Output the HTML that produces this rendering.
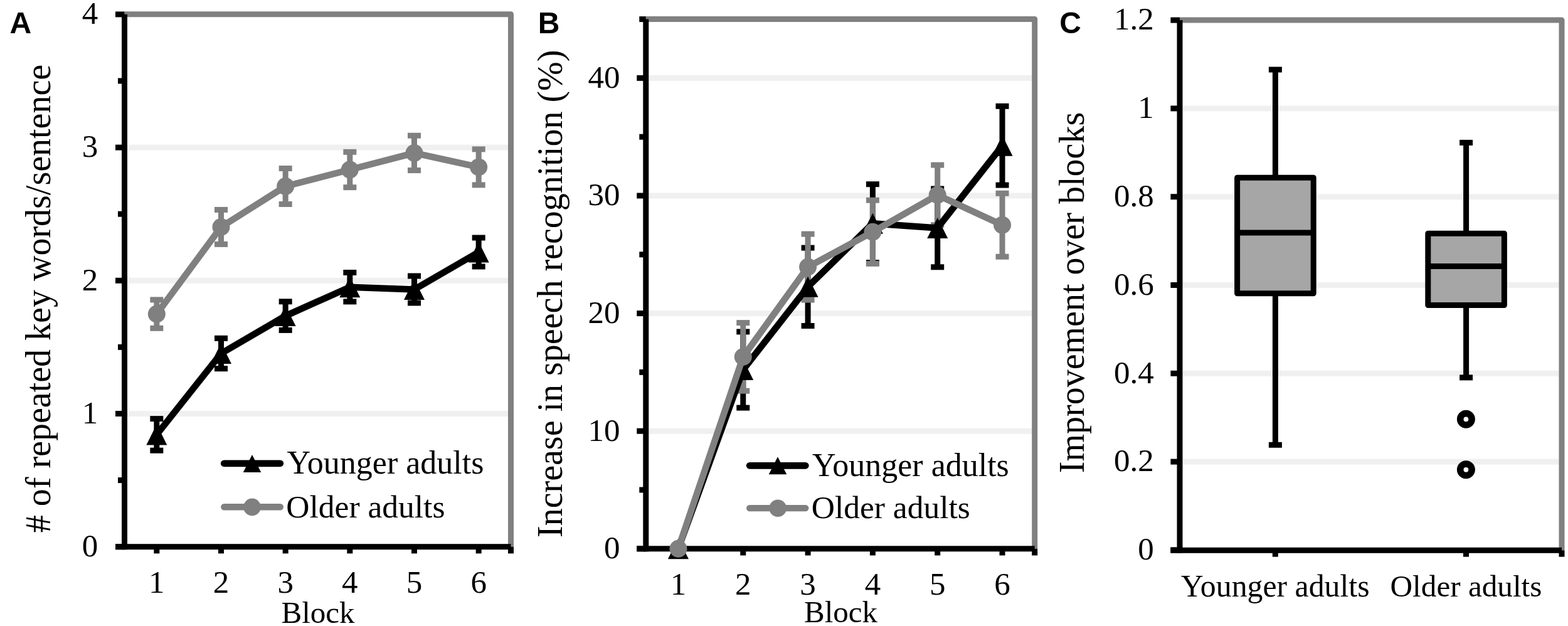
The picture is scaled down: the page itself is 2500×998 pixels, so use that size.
<!DOCTYPE html>
<html><head><meta charset="utf-8"><title>Figure</title>
<style>html,body{margin:0;padding:0;background:#fff;}svg{display:block;}</style>
</head><body>
<svg width="2500" height="998" viewBox="0 0 2500 998">
<rect x="0" y="0" width="2500" height="998" fill="#fff"/>
<rect x="203.00" y="655.00" width="607.00" height="9.00" fill="#f0f0f0"/>
<rect x="203.00" y="442.80" width="607.00" height="9.00" fill="#f0f0f0"/>
<rect x="203.00" y="230.60" width="607.00" height="9.00" fill="#f0f0f0"/>
<path d="M198.50,22.80 L814.50,22.80 L814.50,871.70" fill="none" stroke="#808080" stroke-width="9" stroke-linejoin="round"/>
<rect x="194.00" y="22.80" width="9.00" height="853.40" fill="#000"/>
<rect x="184.00" y="867.20" width="630.50" height="9.00" fill="#000"/>
<rect x="184.00" y="867.20" width="14.50" height="9.00" fill="#000"/>
<rect x="184.00" y="655.00" width="14.50" height="9.00" fill="#000"/>
<rect x="184.00" y="442.80" width="14.50" height="9.00" fill="#000"/>
<rect x="184.00" y="230.60" width="14.50" height="9.00" fill="#000"/>
<rect x="184.00" y="18.40" width="14.50" height="9.00" fill="#000"/>
<rect x="188.00" y="761.10" width="10.50" height="9.00" fill="#000"/>
<rect x="188.00" y="548.90" width="10.50" height="9.00" fill="#000"/>
<rect x="188.00" y="336.70" width="10.50" height="9.00" fill="#000"/>
<rect x="188.00" y="124.50" width="10.50" height="9.00" fill="#000"/>
<rect x="245.33" y="871.70" width="9.00" height="10.70" fill="#000"/>
<rect x="348.00" y="871.70" width="9.00" height="10.70" fill="#000"/>
<rect x="450.67" y="871.70" width="9.00" height="10.70" fill="#000"/>
<rect x="553.33" y="871.70" width="9.00" height="10.70" fill="#000"/>
<rect x="656.00" y="871.70" width="9.00" height="10.70" fill="#000"/>
<rect x="758.67" y="871.70" width="9.00" height="10.70" fill="#000"/>
<rect x="810.00" y="871.70" width="9.00" height="10.70" fill="#000"/>
<text x="156.30" y="887.00" font-size="51" font-family="'Liberation Serif', 'Times New Roman', serif" text-anchor="end">0</text>
<text x="156.30" y="674.80" font-size="51" font-family="'Liberation Serif', 'Times New Roman', serif" text-anchor="end">1</text>
<text x="156.30" y="462.60" font-size="51" font-family="'Liberation Serif', 'Times New Roman', serif" text-anchor="end">2</text>
<text x="156.30" y="250.40" font-size="51" font-family="'Liberation Serif', 'Times New Roman', serif" text-anchor="end">3</text>
<text x="156.30" y="38.20" font-size="51" font-family="'Liberation Serif', 'Times New Roman', serif" text-anchor="end">4</text>
<text x="249.83" y="944.90" font-size="51" font-family="'Liberation Serif', 'Times New Roman', serif" text-anchor="middle">1</text>
<text x="352.50" y="944.90" font-size="51" font-family="'Liberation Serif', 'Times New Roman', serif" text-anchor="middle">2</text>
<text x="455.17" y="944.90" font-size="51" font-family="'Liberation Serif', 'Times New Roman', serif" text-anchor="middle">3</text>
<text x="557.83" y="944.90" font-size="51" font-family="'Liberation Serif', 'Times New Roman', serif" text-anchor="middle">4</text>
<text x="660.50" y="944.90" font-size="51" font-family="'Liberation Serif', 'Times New Roman', serif" text-anchor="middle">5</text>
<text x="763.17" y="944.90" font-size="51" font-family="'Liberation Serif', 'Times New Roman', serif" text-anchor="middle">6</text>
<text x="507.00" y="992.50" font-size="49" font-family="'Liberation Serif', 'Times New Roman', serif" text-anchor="middle">Block</text>
<text x="0" y="0" font-size="56" font-family="'Liberation Serif', 'Times New Roman', serif" text-anchor="middle" transform="translate(80.00,476.00) rotate(-90)"># of repeated key words/sentence</text>
<text x="15.50" y="53.20" font-size="48" font-family="'Liberation Sans', Arial, sans-serif" text-anchor="start" font-weight="bold">A</text>
<rect x="245.33" y="667.60" width="9.00" height="50.60" fill="#000"/>
<rect x="239.33" y="663.10" width="21.00" height="9.00" fill="#000"/>
<rect x="239.33" y="713.70" width="21.00" height="9.00" fill="#000"/>
<rect x="348.00" y="539.30" width="9.00" height="48.40" fill="#000"/>
<rect x="342.00" y="534.80" width="21.00" height="9.00" fill="#000"/>
<rect x="342.00" y="583.20" width="21.00" height="9.00" fill="#000"/>
<rect x="450.67" y="480.80" width="9.00" height="45.60" fill="#000"/>
<rect x="444.67" y="476.30" width="21.00" height="9.00" fill="#000"/>
<rect x="444.67" y="521.90" width="21.00" height="9.00" fill="#000"/>
<rect x="553.33" y="434.50" width="9.00" height="46.40" fill="#000"/>
<rect x="547.33" y="430.00" width="21.00" height="9.00" fill="#000"/>
<rect x="547.33" y="476.40" width="21.00" height="9.00" fill="#000"/>
<rect x="656.00" y="440.00" width="9.00" height="43.00" fill="#000"/>
<rect x="650.00" y="435.50" width="21.00" height="9.00" fill="#000"/>
<rect x="650.00" y="478.50" width="21.00" height="9.00" fill="#000"/>
<rect x="758.67" y="379.00" width="9.00" height="46.00" fill="#000"/>
<rect x="752.67" y="374.50" width="21.00" height="9.00" fill="#000"/>
<rect x="752.67" y="420.50" width="21.00" height="9.00" fill="#000"/>
<rect x="245.33" y="477.90" width="9.00" height="45.40" fill="#808080"/>
<rect x="239.33" y="473.40" width="21.00" height="9.00" fill="#808080"/>
<rect x="239.33" y="518.80" width="21.00" height="9.00" fill="#808080"/>
<rect x="348.00" y="334.40" width="9.00" height="55.00" fill="#808080"/>
<rect x="342.00" y="329.90" width="21.00" height="9.00" fill="#808080"/>
<rect x="342.00" y="384.90" width="21.00" height="9.00" fill="#808080"/>
<rect x="450.67" y="268.50" width="9.00" height="57.00" fill="#808080"/>
<rect x="444.67" y="264.00" width="21.00" height="9.00" fill="#808080"/>
<rect x="444.67" y="321.00" width="21.00" height="9.00" fill="#808080"/>
<rect x="553.33" y="242.30" width="9.00" height="56.40" fill="#808080"/>
<rect x="547.33" y="237.80" width="21.00" height="9.00" fill="#808080"/>
<rect x="547.33" y="294.20" width="21.00" height="9.00" fill="#808080"/>
<rect x="656.00" y="216.20" width="9.00" height="55.40" fill="#808080"/>
<rect x="650.00" y="211.70" width="21.00" height="9.00" fill="#808080"/>
<rect x="650.00" y="267.10" width="21.00" height="9.00" fill="#808080"/>
<rect x="758.67" y="237.90" width="9.00" height="57.00" fill="#808080"/>
<rect x="752.67" y="233.40" width="21.00" height="9.00" fill="#808080"/>
<rect x="752.67" y="290.40" width="21.00" height="9.00" fill="#808080"/>
<polyline points="249.83,692.90 352.50,563.50 455.17,503.60 557.83,457.70 660.50,461.50 763.17,402.00" fill="none" stroke="#000" stroke-width="10.5" stroke-linejoin="round" stroke-linecap="round"/>
<polygon points="249.83,676.40 266.33,709.40 233.33,709.40" fill="#000"/>
<polygon points="352.50,547.00 369.00,580.00 336.00,580.00" fill="#000"/>
<polygon points="455.17,487.10 471.67,520.10 438.67,520.10" fill="#000"/>
<polygon points="557.83,441.20 574.33,474.20 541.33,474.20" fill="#000"/>
<polygon points="660.50,445.00 677.00,478.00 644.00,478.00" fill="#000"/>
<polygon points="763.17,385.50 779.67,418.50 746.67,418.50" fill="#000"/>
<polyline points="249.83,500.60 352.50,361.90 455.17,297.00 557.83,270.50 660.50,243.90 763.17,266.40" fill="none" stroke="#808080" stroke-width="10.5" stroke-linejoin="round" stroke-linecap="round"/>
<circle cx="249.83" cy="500.60" r="14" fill="#808080"/>
<circle cx="352.50" cy="361.90" r="14" fill="#808080"/>
<circle cx="455.17" cy="297.00" r="14" fill="#808080"/>
<circle cx="557.83" cy="270.50" r="14" fill="#808080"/>
<circle cx="660.50" cy="243.90" r="14" fill="#808080"/>
<circle cx="763.17" cy="266.40" r="14" fill="#808080"/>
<line x1="357.3" y1="738.8" x2="446.8" y2="738.8" stroke="#000" stroke-width="10.8" stroke-linecap="round"/>
<polygon points="402.00,725.00 416.25,753.00 387.75,753.00" fill="#000"/>
<line x1="357.3" y1="808.2" x2="446.8" y2="808.2" stroke="#808080" stroke-width="10.4" stroke-linecap="round"/>
<circle cx="402.00" cy="808.40" r="13.8" fill="#808080"/>
<text x="457.50" y="754.90" font-size="52" font-family="'Liberation Serif', 'Times New Roman', serif" text-anchor="start">Younger adults</text>
<text x="456.30" y="824.80" font-size="51.5" font-family="'Liberation Serif', 'Times New Roman', serif" text-anchor="start">Older adults</text>
<rect x="1034.30" y="682.70" width="610.90" height="9.00" fill="#f0f0f0"/>
<rect x="1034.30" y="495.10" width="610.90" height="9.00" fill="#f0f0f0"/>
<rect x="1034.30" y="307.50" width="610.90" height="9.00" fill="#f0f0f0"/>
<rect x="1034.30" y="119.90" width="610.90" height="9.00" fill="#f0f0f0"/>
<path d="M1029.80,30.50 L1649.70,30.50 L1649.70,874.80" fill="none" stroke="#808080" stroke-width="9" stroke-linejoin="round"/>
<rect x="1025.30" y="30.50" width="9.00" height="848.80" fill="#000"/>
<rect x="1015.30" y="870.30" width="634.40" height="9.00" fill="#000"/>
<rect x="1015.30" y="870.30" width="14.50" height="9.00" fill="#000"/>
<rect x="1015.30" y="682.70" width="14.50" height="9.00" fill="#000"/>
<rect x="1015.30" y="495.10" width="14.50" height="9.00" fill="#000"/>
<rect x="1015.30" y="307.50" width="14.50" height="9.00" fill="#000"/>
<rect x="1015.30" y="119.90" width="14.50" height="9.00" fill="#000"/>
<rect x="1019.30" y="776.50" width="10.50" height="9.00" fill="#000"/>
<rect x="1019.30" y="588.90" width="10.50" height="9.00" fill="#000"/>
<rect x="1019.30" y="401.30" width="10.50" height="9.00" fill="#000"/>
<rect x="1019.30" y="213.70" width="10.50" height="9.00" fill="#000"/>
<rect x="1019.30" y="26.10" width="10.50" height="9.00" fill="#000"/>
<rect x="1076.96" y="874.80" width="9.00" height="10.70" fill="#000"/>
<rect x="1180.28" y="874.80" width="9.00" height="10.70" fill="#000"/>
<rect x="1283.59" y="874.80" width="9.00" height="10.70" fill="#000"/>
<rect x="1386.91" y="874.80" width="9.00" height="10.70" fill="#000"/>
<rect x="1490.22" y="874.80" width="9.00" height="10.70" fill="#000"/>
<rect x="1593.54" y="874.80" width="9.00" height="10.70" fill="#000"/>
<rect x="1645.20" y="874.80" width="9.00" height="10.70" fill="#000"/>
<text x="988.50" y="890.10" font-size="51" font-family="'Liberation Serif', 'Times New Roman', serif" text-anchor="end">0</text>
<text x="988.50" y="702.50" font-size="51" font-family="'Liberation Serif', 'Times New Roman', serif" text-anchor="end">10</text>
<text x="988.50" y="514.90" font-size="51" font-family="'Liberation Serif', 'Times New Roman', serif" text-anchor="end">20</text>
<text x="988.50" y="327.30" font-size="51" font-family="'Liberation Serif', 'Times New Roman', serif" text-anchor="end">30</text>
<text x="988.50" y="139.70" font-size="51" font-family="'Liberation Serif', 'Times New Roman', serif" text-anchor="end">40</text>
<text x="1081.46" y="947.80" font-size="51" font-family="'Liberation Serif', 'Times New Roman', serif" text-anchor="middle">1</text>
<text x="1184.78" y="947.80" font-size="51" font-family="'Liberation Serif', 'Times New Roman', serif" text-anchor="middle">2</text>
<text x="1288.09" y="947.80" font-size="51" font-family="'Liberation Serif', 'Times New Roman', serif" text-anchor="middle">3</text>
<text x="1391.41" y="947.80" font-size="51" font-family="'Liberation Serif', 'Times New Roman', serif" text-anchor="middle">4</text>
<text x="1494.72" y="947.80" font-size="51" font-family="'Liberation Serif', 'Times New Roman', serif" text-anchor="middle">5</text>
<text x="1598.04" y="947.80" font-size="51" font-family="'Liberation Serif', 'Times New Roman', serif" text-anchor="middle">6</text>
<text x="1340.60" y="991.50" font-size="49" font-family="'Liberation Serif', 'Times New Roman', serif" text-anchor="middle">Block</text>
<text x="0" y="0" font-size="56" font-family="'Liberation Serif', 'Times New Roman', serif" text-anchor="middle" transform="translate(896.00,468.30) rotate(-90)">Increase in speech recognition (%)</text>
<text x="857.80" y="53.00" font-size="48" font-family="'Liberation Sans', Arial, sans-serif" text-anchor="start" font-weight="bold">B</text>
<rect x="1180.28" y="528.90" width="9.00" height="121.20" fill="#000"/>
<rect x="1174.28" y="524.40" width="21.00" height="9.00" fill="#000"/>
<rect x="1174.28" y="645.60" width="21.00" height="9.00" fill="#000"/>
<rect x="1283.59" y="395.10" width="9.00" height="124.40" fill="#000"/>
<rect x="1277.59" y="390.60" width="21.00" height="9.00" fill="#000"/>
<rect x="1277.59" y="515.00" width="21.00" height="9.00" fill="#000"/>
<rect x="1386.91" y="293.70" width="9.00" height="125.00" fill="#000"/>
<rect x="1380.91" y="289.20" width="21.00" height="9.00" fill="#000"/>
<rect x="1380.91" y="414.20" width="21.00" height="9.00" fill="#000"/>
<rect x="1490.22" y="301.00" width="9.00" height="124.80" fill="#000"/>
<rect x="1484.22" y="296.50" width="21.00" height="9.00" fill="#000"/>
<rect x="1484.22" y="421.30" width="21.00" height="9.00" fill="#000"/>
<rect x="1593.54" y="169.30" width="9.00" height="125.80" fill="#000"/>
<rect x="1587.54" y="164.80" width="21.00" height="9.00" fill="#000"/>
<rect x="1587.54" y="290.60" width="21.00" height="9.00" fill="#000"/>
<rect x="1180.28" y="514.60" width="9.00" height="108.60" fill="#808080"/>
<rect x="1174.28" y="510.10" width="21.00" height="9.00" fill="#808080"/>
<rect x="1174.28" y="618.70" width="21.00" height="9.00" fill="#808080"/>
<rect x="1283.59" y="373.10" width="9.00" height="105.00" fill="#808080"/>
<rect x="1277.59" y="368.60" width="21.00" height="9.00" fill="#808080"/>
<rect x="1277.59" y="473.60" width="21.00" height="9.00" fill="#808080"/>
<rect x="1386.91" y="319.20" width="9.00" height="101.20" fill="#808080"/>
<rect x="1380.91" y="314.70" width="21.00" height="9.00" fill="#808080"/>
<rect x="1380.91" y="415.90" width="21.00" height="9.00" fill="#808080"/>
<rect x="1490.22" y="263.10" width="9.00" height="95.60" fill="#808080"/>
<rect x="1484.22" y="258.60" width="21.00" height="9.00" fill="#808080"/>
<rect x="1484.22" y="354.20" width="21.00" height="9.00" fill="#808080"/>
<rect x="1593.54" y="308.25" width="9.00" height="101.00" fill="#808080"/>
<rect x="1587.54" y="303.75" width="21.00" height="9.00" fill="#808080"/>
<rect x="1587.54" y="404.75" width="21.00" height="9.00" fill="#808080"/>
<polyline points="1081.46,874.80 1184.78,589.50 1288.09,457.30 1391.41,356.20 1494.72,363.40 1598.04,232.20" fill="none" stroke="#000" stroke-width="10.5" stroke-linejoin="round" stroke-linecap="round"/>
<polygon points="1081.46,858.30 1097.96,891.30 1064.96,891.30" fill="#000"/>
<polygon points="1184.78,573.00 1201.28,606.00 1168.28,606.00" fill="#000"/>
<polygon points="1288.09,440.80 1304.59,473.80 1271.59,473.80" fill="#000"/>
<polygon points="1391.41,339.70 1407.91,372.70 1374.91,372.70" fill="#000"/>
<polygon points="1494.72,346.90 1511.22,379.90 1478.22,379.90" fill="#000"/>
<polygon points="1598.04,215.70 1614.54,248.70 1581.54,248.70" fill="#000"/>
<polyline points="1081.46,874.80 1184.78,568.90 1288.09,425.60 1391.41,369.80 1494.72,310.90 1598.04,358.75" fill="none" stroke="#808080" stroke-width="10.5" stroke-linejoin="round" stroke-linecap="round"/>
<circle cx="1081.46" cy="874.80" r="14" fill="#808080"/>
<circle cx="1184.78" cy="568.90" r="14" fill="#808080"/>
<circle cx="1288.09" cy="425.60" r="14" fill="#808080"/>
<circle cx="1391.41" cy="369.80" r="14" fill="#808080"/>
<circle cx="1494.72" cy="310.90" r="14" fill="#808080"/>
<circle cx="1598.04" cy="358.75" r="14" fill="#808080"/>
<line x1="1195.2" y1="742.3" x2="1284.3" y2="742.3" stroke="#000" stroke-width="10.8" stroke-linecap="round"/>
<polygon points="1240.00,728.30 1254.25,756.30 1225.75,756.30" fill="#000"/>
<line x1="1195.2" y1="810.1" x2="1284.3" y2="810.1" stroke="#808080" stroke-width="10.4" stroke-linecap="round"/>
<circle cx="1240.20" cy="810.20" r="13.8" fill="#808080"/>
<text x="1294.90" y="758.50" font-size="52" font-family="'Liberation Serif', 'Times New Roman', serif" text-anchor="start">Younger adults</text>
<text x="1293.70" y="826.00" font-size="51.5" font-family="'Liberation Serif', 'Times New Roman', serif" text-anchor="start">Older adults</text>
<rect x="1885.50" y="731.60" width="600.00" height="9.00" fill="#f0f0f0"/>
<rect x="1885.50" y="590.80" width="600.00" height="9.00" fill="#f0f0f0"/>
<rect x="1885.50" y="450.00" width="600.00" height="9.00" fill="#f0f0f0"/>
<rect x="1885.50" y="309.20" width="600.00" height="9.00" fill="#f0f0f0"/>
<rect x="1885.50" y="168.40" width="600.00" height="9.00" fill="#f0f0f0"/>
<path d="M1881.00,32.10 L2490.00,32.10 L2490.00,877.30" fill="none" stroke="#808080" stroke-width="9" stroke-linejoin="round"/>
<rect x="1876.50" y="32.10" width="9.00" height="849.70" fill="#000"/>
<rect x="1866.40" y="872.80" width="623.60" height="9.00" fill="#000"/>
<rect x="1866.40" y="872.40" width="14.60" height="9.00" fill="#000"/>
<rect x="1866.40" y="731.60" width="14.60" height="9.00" fill="#000"/>
<rect x="1866.40" y="590.80" width="14.60" height="9.00" fill="#000"/>
<rect x="1866.40" y="450.00" width="14.60" height="9.00" fill="#000"/>
<rect x="1866.40" y="309.20" width="14.60" height="9.00" fill="#000"/>
<rect x="1866.40" y="168.40" width="14.60" height="9.00" fill="#000"/>
<rect x="1866.40" y="27.60" width="14.60" height="9.00" fill="#000"/>
<rect x="2028.80" y="877.30" width="9.00" height="10.40" fill="#000"/>
<rect x="2333.00" y="877.30" width="9.00" height="10.40" fill="#000"/>
<rect x="2485.50" y="877.30" width="9.00" height="10.40" fill="#000"/>
<text x="1839.70" y="892.20" font-size="51" font-family="'Liberation Serif', 'Times New Roman', serif" text-anchor="end">0</text>
<text x="1839.70" y="751.40" font-size="51" font-family="'Liberation Serif', 'Times New Roman', serif" text-anchor="end">0.2</text>
<text x="1839.70" y="610.60" font-size="51" font-family="'Liberation Serif', 'Times New Roman', serif" text-anchor="end">0.4</text>
<text x="1839.70" y="469.80" font-size="51" font-family="'Liberation Serif', 'Times New Roman', serif" text-anchor="end">0.6</text>
<text x="1839.70" y="329.00" font-size="51" font-family="'Liberation Serif', 'Times New Roman', serif" text-anchor="end">0.8</text>
<text x="1839.70" y="188.20" font-size="51" font-family="'Liberation Serif', 'Times New Roman', serif" text-anchor="end">1</text>
<text x="1839.70" y="47.40" font-size="51" font-family="'Liberation Serif', 'Times New Roman', serif" text-anchor="end">1.2</text>
<text x="2033.20" y="950.60" font-size="49.8" font-family="'Liberation Serif', 'Times New Roman', serif" text-anchor="middle">Younger adults</text>
<text x="2337.50" y="950.60" font-size="49.2" font-family="'Liberation Serif', 'Times New Roman', serif" text-anchor="middle">Older adults</text>
<text x="0" y="0" font-size="56" font-family="'Liberation Serif', 'Times New Roman', serif" text-anchor="middle" transform="translate(1728.00,466.50) rotate(-90)">Improvement over blocks</text>
<text x="1689.30" y="53.30" font-size="48" font-family="'Liberation Sans', Arial, sans-serif" text-anchor="start" font-weight="bold">C</text>
<rect x="2028.90" y="111.00" width="9.00" height="172.20" fill="#000"/>
<rect x="2022.90" y="106.50" width="21.00" height="9.00" fill="#000"/>
<rect x="2028.90" y="467.80" width="9.00" height="241.50" fill="#000"/>
<rect x="2022.90" y="704.80" width="21.00" height="9.00" fill="#000"/>
<rect x="1972.60" y="283.20" width="121.6" height="184.60" fill="#a6a6a6" stroke="#000" stroke-width="9" stroke-linejoin="round"/>
<line x1="1972.60" y1="371.00" x2="2094.20" y2="371.00" stroke="#000" stroke-width="9"/>
<rect x="2333.10" y="227.40" width="9.00" height="144.80" fill="#000"/>
<rect x="2327.10" y="222.90" width="21.00" height="9.00" fill="#000"/>
<rect x="2333.10" y="486.50" width="9.00" height="115.40" fill="#000"/>
<rect x="2327.10" y="597.40" width="21.00" height="9.00" fill="#000"/>
<rect x="2276.80" y="372.20" width="121.6" height="114.30" fill="#a6a6a6" stroke="#000" stroke-width="9" stroke-linejoin="round"/>
<line x1="2276.80" y1="424.40" x2="2398.40" y2="424.40" stroke="#000" stroke-width="9"/>
<circle cx="2337.4" cy="668.3" r="9.2" fill="none" stroke="#000" stroke-width="10.6"/>
<circle cx="2337.4" cy="748.8" r="9.2" fill="none" stroke="#000" stroke-width="10.6"/>
</svg>
</body></html>
